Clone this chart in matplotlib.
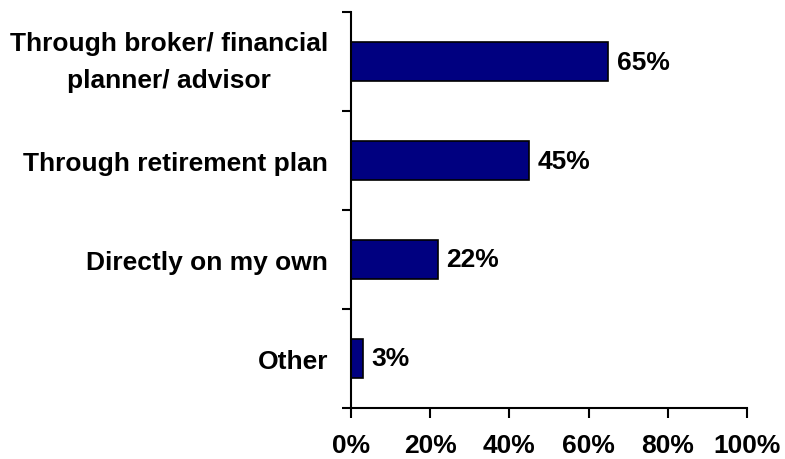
import matplotlib
matplotlib.use("Agg")
import matplotlib.pyplot as plt
import numpy as np

categories = [
    "Through broker/ financial\nplanner/ advisor",
    "Through retirement plan",
    "Directly on my own",
    "Other",
]
values = [65, 45, 22, 3]
xticks = [0, 20, 40, 60, 80, 100]
xtick_labels = ["0%", "20%", "40%", "60%", "80%", "100%"]

plt.rcParams["font.family"] = ["Liberation Sans", "DejaVu Sans"]
plt.rcParams["font.weight"] = "bold"

FS = 19

fig = plt.figure(figsize=(7.85, 4.6), dpi=100)
ax = fig.add_axes([0.447, 0.111, 0.5046, 0.8606])

ypos = np.arange(len(categories))
ax.barh(ypos, values, height=0.4, color="#000080",
        edgecolor="black", linewidth=1.2)

for y, v in zip(ypos, values):
    ax.annotate(f"{v}%", xy=(v, y), xytext=(6, 0), textcoords="offset points",
                ha="left", va="center", fontsize=FS, fontweight="bold")

ax.set_xlim(0, 100)
ax.set_ylim(len(categories) - 0.5, -0.5)

ax.set_xticks(xticks)
ax.set_xticklabels(xtick_labels, fontsize=FS, fontweight="bold")
ax.tick_params(axis="x", direction="out", length=7, width=1.5, pad=11)

ax.set_yticks(ypos)
ax.set_yticklabels(categories, fontsize=FS, fontweight="bold",
                   multialignment="center", linespacing=1.64)
for lbl in ax.get_yticklabels():
    if "\n" in lbl.get_text():
        lbl.set_verticalalignment("center")
ax.tick_params(axis="y", which="major", length=0, pad=16.5)
ax.set_yticks(np.arange(len(categories) + 1) - 0.5, minor=True)
ax.tick_params(axis="y", which="minor", direction="out", length=6.5, width=1.5)

for side in ("top", "right"):
    ax.spines[side].set_visible(False)
for side in ("left", "bottom"):
    ax.spines[side].set_linewidth(1.5)

fig.savefig("out.png", dpi=100, facecolor="white")
